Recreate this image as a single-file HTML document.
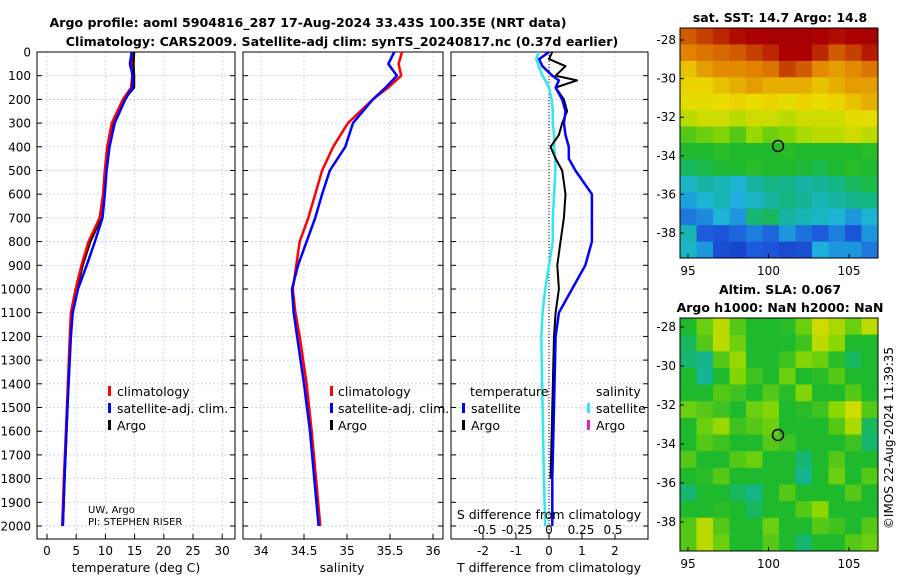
<!DOCTYPE html>
<html><head><meta charset="utf-8">
<style>
body{margin:0;background:#fff;}
svg{display:block;font-family:"DejaVu Sans","Liberation Sans",sans-serif;}
</style></head>
<body>
<svg id="c" width="900" height="580" viewBox="0 0 900 580"></svg>
<script>
// ---------- data ----------
const depthT=[0,50,100,150,200,300,400,500,600,700,800,900,1000,1100,1200,1500,1800,2000];
const tempClim=[14.5,14.4,14.6,14.4,13.0,11.1,10.3,9.9,9.6,9.0,7.1,5.9,4.9,4.1,3.9,3.4,2.9,2.6];
const tempSat=[14.5,14.2,14.7,14.6,13.4,11.6,10.7,10.2,9.9,9.5,8.2,6.8,5.3,4.4,4.1,3.5,3.0,2.7];
const tempArgo=[14.9,14.8,14.9,14.9,13.2,11.3,10.4,10.0,9.7,9.3,7.4,6.1,5.1,4.3,4.0,3.5,3.0,2.7];
const depthS=[0,50,100,150,200,300,400,500,600,700,800,900,1000,1100,1200,1400,1600,1800,2000];
const salClim=[35.64,35.6,35.63,35.48,35.3,35.01,34.84,34.71,34.63,34.55,34.45,34.41,34.37,34.4,34.45,34.53,34.59,34.64,34.69];
const salSat=[35.55,35.48,35.58,35.45,35.3,35.07,34.98,34.8,34.71,34.63,34.53,34.43,34.36,34.38,34.42,34.5,34.57,34.62,34.67];
const depthD=[0,30,60,100,120,150,200,250,300,350,400,450,500,600,700,800,900,1000,1100,1200,1500,1800,2000];
const dTsat=[0.0,-0.3,-0.2,0.1,0.3,0.2,0.4,0.5,0.45,0.5,0.6,0.6,0.8,1.3,1.3,1.3,1.1,0.7,0.3,0.2,0.15,0.1,0.1];
const dTargo=[0.1,0.0,0.5,0.2,0.85,0.2,0.45,0.55,0.4,0.3,0.05,0.2,0.4,0.5,0.45,0.35,0.25,0.3,0.2,0.15,0.1,0.05,null];
const dSsat=[-0.08,-0.1,-0.08,-0.05,-0.03,0.0,0.02,0.03,0.03,0.04,0.04,0.05,0.05,0.04,0.03,0.03,0.0,-0.03,-0.05,-0.06,-0.05,-0.04,-0.03];
const depthTicks=[0,100,200,300,400,500,600,700,800,900,1000,1100,1200,1300,1400,1500,1600,1700,1800,1900,2000];
const tTicks=[0,5,10,15,20,25,30];
const sTicks=[34,34.5,35,35.5,36];
const sTickLabels=['34','34.5','35','35.5','36'];
const dTTicks=[-2,-1,0,1,2];
const dSTicks=[-0.5,-0.25,0,0.25,0.5];
const dSTickLabels=['-0.5','-0.25','0','0.25','0.5'];
const sstGrid=[
[.88,.9,.92,.94,.95,.96,.96,.96,.95,.94,.95,.96],
[.85,.86,.87,.88,.9,.92,.95,.95,.92,.88,.9,.93],
[.78,.82,.84,.84,.85,.86,.9,.88,.84,.82,.84,.86],
[.76,.76,.78,.8,.82,.8,.8,.8,.78,.8,.82,.82],
[.74,.74,.75,.76,.75,.76,.74,.76,.75,.76,.78,.8],
[.7,.72,.72,.7,.72,.72,.7,.72,.72,.72,.74,.74],
[.6,.62,.64,.6,.66,.62,.64,.68,.7,.7,.72,.7],
[.55,.55,.56,.55,.55,.55,.56,.55,.55,.55,.55,.56],
[.5,.52,.54,.55,.56,.55,.55,.54,.52,.55,.56,.55],
[.38,.42,.4,.36,.42,.46,.45,.42,.44,.46,.5,.52],
[.32,.36,.4,.34,.38,.42,.46,.44,.4,.42,.45,.46],
[.25,.28,.36,.3,.48,.5,.42,.4,.38,.36,.3,.36],
[.4,.2,.18,.22,.26,.22,.3,.24,.2,.26,.18,.3],
[.38,.3,.15,.12,.2,.18,.14,.16,.34,.3,.3,.25]];
const slaGrid=[
[.55,.62,.7,.6,.55,.55,.56,.62,.72,.68,.62,.7],
[.5,.6,.7,.62,.55,.55,.55,.58,.7,.65,.55,.55],
[.48,.45,.6,.66,.55,.55,.58,.64,.62,.56,.5,.55],
[.55,.44,.55,.64,.58,.55,.62,.55,.56,.6,.55,.55],
[.55,.55,.6,.58,.55,.6,.56,.64,.55,.55,.6,.55],
[.62,.6,.58,.55,.62,.64,.55,.56,.58,.65,.72,.6],
[.55,.62,.66,.58,.6,.62,.55,.55,.55,.6,.68,.5],
[.55,.6,.58,.55,.55,.6,.58,.55,.55,.55,.58,.48],
[.6,.55,.55,.6,.62,.55,.55,.48,.55,.6,.55,.55],
[.55,.56,.6,.55,.55,.55,.55,.45,.55,.62,.55,.6],
[.48,.55,.55,.5,.46,.55,.6,.55,.55,.55,.6,.55],
[.55,.55,.56,.55,.5,.55,.55,.6,.65,.55,.55,.55],
[.6,.7,.6,.55,.55,.62,.55,.55,.6,.58,.55,.6],
[.6,.7,.62,.55,.55,.6,.55,.48,.55,.55,.6,.62]];
const lonTicks=[95,100,105];
const latTicks=[-28,-30,-32,-34,-36,-38];

// ---------- helpers ----------
const svg=document.getElementById('c');
const NS='http://www.w3.org/2000/svg';
function mk(tag,at,parent){const e=document.createElementNS(NS,tag);for(const k in at)e.setAttribute(k,at[k]);(parent||svg).appendChild(e);return e;}
function txt(x,y,s,size,anchor,weight,parent){const t=mk('text',{x:x,y:y,'font-size':size,'text-anchor':anchor||'middle','font-weight':weight||'normal',fill:'#000'},parent);t.textContent=s;return t;}
const Y0=52,Y1=539;
const yD=d=>Y0+d*0.237;
function panel(x0,x1,xs,ticks,tickLabels,name){
  const g=mk('g',{});
  
  
  ticks.forEach(v=>{const x=xs(v);mk('line',{x1:x,x2:x,y1:Y0,y2:Y1,stroke:'#b8c4ec','stroke-width':0.7,'stroke-dasharray':'2,2'},g);});
  depthTicks.forEach(d=>{const y=yD(d);mk('line',{x1:x0,x2:x1,y1:y,y2:y,stroke:'#b8c4ec','stroke-width':0.7,'stroke-dasharray':'2,2'},g);
    mk('line',{x1:x0,x2:x0+5,y1:y,y2:y,stroke:'#000'},g);mk('line',{x1:x1-5,x2:x1,y1:y,y2:y,stroke:'#000'},g);});
  mk('rect',{x:x0,y:Y0,width:x1-x0,height:Y1-Y0,fill:'none',stroke:'#000','stroke-width':1},g);
  ticks.forEach((v,i)=>{const x=xs(v);mk('line',{x1:x,x2:x,y1:Y1,y2:Y1-5,stroke:'#000'},g);txt(x,Y1+16,tickLabels[i],12,'middle','normal',g);});
  return g;
}
function line(xs,vals,depths,color,w,name,g){
  let d='';let pen=false;
  vals.forEach((v,i)=>{if(v===null){pen=false;return;}d+=(pen?'L':'M')+xs(v).toFixed(1)+','+yD(depths[i]).toFixed(1);pen=true;});
  const p=mk('path',{d:d,fill:'none',stroke:color,'stroke-width':w,'stroke-linejoin':'round'},g);
  
  
}
// titles
let t=txt(308,27,'Argo profile: aoml 5904816_287 17-Aug-2024 33.43S 100.35E (NRT data)',12.6,'middle','bold');

t=txt(342,46,'Climatology: CARS2009. Satellite-adj clim: synTS_20240817.nc (0.37d earlier)',12.6,'middle','bold');

depthTicks.forEach(d=>txt(31,yD(d)+4.5,String(d),12,'end'));

// panel 1 temperature
const xT=v=>47+v*5.84;
const g1=panel(37,235,xT,tTicks,tTicks.map(String),'temperature-panel');
line(xT,tempArgo,depthT,'#000',2.5,'temp-argo-line',g1);
line(xT,tempClim,depthT,'#f00',2.5,'temp-climatology-line',g1);
line(xT,tempSat,depthT,'#00f',2.5,'temp-satellite-line',g1);
txt(136,572,'temperature (deg C)',12.5,'middle','normal',g1);
[['climatology','#f00',396],['satellite-adj. clim.','#00f',413],['Argo','#000',430]].forEach(a=>{mk('rect',{x:108,y:a[2]-10,width:3,height:10,fill:a[1]},g1);txt(117,a[2],a[0],12.5,'start','normal',g1);});
txt(88,513,'UW, Argo',10,'start','normal',g1);txt(88,525,'PI: STEPHEN RISER',10,'start','normal',g1);

// panel 2 salinity
const xS=v=>261+(v-34)*86;
const g2=panel(243,443,xS,sTicks,sTickLabels,'salinity-panel');
line(xS,salClim,depthS,'#f00',2.5,'salinity-climatology-line',g2);
line(xS,salSat,depthS,'#00f',2.5,'salinity-satellite-line',g2);
txt(342,572,'salinity',12.5,'middle','normal',g2);
[['climatology','#f00',396],['satellite-adj. clim.','#00f',413],['Argo','#000',430]].forEach(a=>{mk('rect',{x:330,y:a[2]-10,width:3,height:10,fill:a[1]},g2);txt(338,a[2],a[0],12.5,'start','normal',g2);});

// panel 3 differences
const xDT=v=>549+v*33;
const xDS=v=>549+v*128;
const g3=panel(451,648,xDT,dTTicks,['-2','-1','0','1','2'],'difference-panel');
mk('line',{x1:549,x2:549,y1:Y0,y2:Y1,stroke:'#000','stroke-width':1,'stroke-dasharray':'1,2'},g3);
line(xDS,dSsat,depthD,'#2ee8f0',2.5,'salinity-diff-satellite-line',g3);
line(xDT,dTargo,depthD,'#000',2,'temp-diff-argo-line',g3);
line(xDT,dTsat,depthD,'#00f',2.5,'temp-diff-satellite-line',g3);
txt(549,572,'T difference from climatology',12.5,'middle','normal',g3);
txt(549,519,'S difference from climatology',12.5,'middle','normal',g3);
dSTicks.forEach((v,i)=>txt(xDS(v),534,dSTickLabels[i],12,'middle','normal',g3));
txt(470,396,'temperature',12.5,'start','normal',g3);txt(596,396,'salinity',12.5,'start','normal',g3);
mk('rect',{x:462,y:403,width:3,height:10,fill:'#00f'},g3);txt(471,413,'satellite',12.5,'start','normal',g3);
mk('rect',{x:462,y:420,width:3,height:10,fill:'#000'},g3);txt(471,430,'Argo',12.5,'start','normal',g3);
mk('rect',{x:587,y:403,width:3,height:10,fill:'#2ee8f0'},g3);txt(596,413,'satellite',12.5,'start','normal',g3);
mk('rect',{x:587,y:420,width:3,height:10,fill:'#e020c0'},g3);txt(596,430,'Argo',12.5,'start','normal',g3);

// maps
const cstops=[[0,[10,40,180]],[0.2,[30,90,220]],[0.35,[30,180,220]],[0.45,[20,180,140]],[0.55,[30,185,45]],[0.65,[140,215,0]],[0.75,[235,220,0]],[0.85,[225,130,0]],[0.95,[170,0,0]],[1,[150,0,0]]];
function cmap(v){v=Math.max(0,Math.min(1,v));for(let i=1;i<cstops.length;i++){if(v<=cstops[i][0]){const a=cstops[i-1],b=cstops[i],f=(v-a[0])/(b[0]-a[0]);return 'rgb('+a[1].map((c,k)=>Math.round(c+(b[1][k]-c)*f)).join(',')+')';}}return 'rgb(150,0,0)';}
function map(x0,y0,w,h,grid,latY0,latStep,name,title1,title2,cy){
  const g=mk('g',{});
  
  
  const rows=grid.length,cols=grid[0].length,cw=w/cols,ch=h/rows;
  grid.forEach((row,i)=>row.forEach((v,j)=>{mk('rect',{x:x0+j*cw,y:y0+i*ch,width:cw+0.5,height:ch+0.5,fill:cmap(v)},g);}));
  mk('rect',{x:x0,y:y0,width:w,height:h,fill:'none',stroke:'#000'},g);
  const xl=v=>688+(v-95)*16.1;
  lonTicks.forEach(v=>{mk('line',{x1:xl(v),x2:xl(v),y1:y0+h,y2:y0+h-4,stroke:'#000'},g);txt(xl(v),y0+h+17,String(v),12,'middle','normal',g);});
  latTicks.forEach(v=>{const y=latY0+(-28-v)*latStep;mk('line',{x1:x0,x2:x0+4,y1:y,y2:y,stroke:'#000'},g);txt(x0-4,y+4,String(v),12,'end','normal',g);});
  const c=mk('circle',{cx:778,cy:cy,r:5.5,fill:'none',stroke:'#000','stroke-width':1.5},g);
  
  
  txt(780,y0-6,title1,12.5,'middle','bold',g);
  if(title2)txt(780,y0-24,title2,12.5,'middle','bold',g);
}
map(680,28,198,230,sstGrid,40,19.3,'sst-map','sat. SST: 14.7 Argo: 14.8',null,146);
map(680,318,198,233,slaGrid,327,19.5,'sla-map','Argo h1000: NaN h2000: NaN','Altim. SLA: 0.067',435);
t=txt(0,0,'©IMOS 22-Aug-2024 11:39:35',12,'middle');
t.setAttribute('transform','translate(893,438) rotate(-90)');

</script>
</body></html>
